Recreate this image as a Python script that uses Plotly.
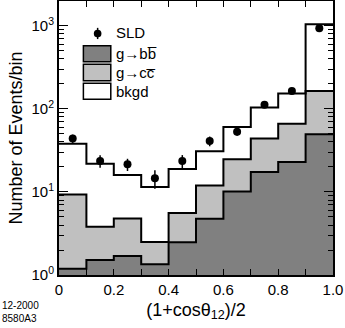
import plotly.graph_objects as go

# Bin edges of (1+cos theta_12)/2
edges = [0.0, 0.1, 0.2, 0.3, 0.4, 0.5, 0.6, 0.7, 0.8, 0.9, 1.0]
centers = [0.05, 0.15, 0.25, 0.35, 0.45, 0.55, 0.65, 0.75, 0.85, 0.95]

# Stacked MC (cumulative tops)
bb_top = [1.19, 1.52, 1.69, 1.35, 2.48, 4.77, 10.1, 17.4, 23.0, 49.5]      # g->bb
cc_top = [9.3, 3.8, 4.8, 2.5, 5.6, 12.0, 24.8, 44.0, 66.5, 165.0]          # + g->cc
bkgd_top = [38.0, 21.9, 16.0, 11.5, 18.9, 31.0, 60.7, 104.0, 153.0, 1050.0]  # + bkgd

# SLD data
sld = [44.0, 23.6, 21.5, 14.6, 23.6, 41.0, 53.0, 112.0, 165.0, 938.0]
sld_err = [5.0, 4.0, 3.6, 3.7, 4.2, 5.5, 5.5, 8.0, 9.0, 25.0]

DARK = "#808080"
LIGHT = "#c0c0c0"


def steps(vals):
    return vals + [vals[-1]]


fig = go.Figure()

# invisible floor for the bottom fill
fig.add_trace(go.Scatter(x=edges, y=[0.5] * len(edges), mode="lines",
                         line=dict(width=0, shape="hv"), showlegend=False, hoverinfo="skip"))

for vals, col in [(bb_top, DARK), (cc_top, LIGHT), (bkgd_top, "white")]:
    fig.add_trace(go.Scatter(
        x=edges, y=steps(vals), mode="lines",
        line=dict(color="black", width=2, shape="hv"),
        fill="tonexty", fillcolor=col, showlegend=False,
    ))

fig.add_trace(go.Scatter(
    x=centers, y=sld, mode="markers",
    marker=dict(color="black", size=8),
    error_y=dict(type="data", array=sld_err, color="black", thickness=1.5, width=0),
    showlegend=False,
))

# legend drawn by hand
shapes = []
boxes = [(0.778, 0.837, DARK), (0.709, 0.769, LIGHT), (0.641, 0.700, "white")]
for y0, y1, col in boxes:
    shapes.append(dict(type="rect", xref="paper", yref="paper", x0=0.089, x1=0.189,
                       y0=y0, y1=y1, fillcolor=col, line=dict(color="black", width=1.5)))
shapes.append(dict(type="line", xref="paper", yref="paper", x0=0.141, x1=0.141,
                   y0=0.861, y1=0.902, line=dict(color="black", width=1.5)))
shapes.append(dict(type="circle", xref="paper", yref="paper", x0=0.127, x1=0.155,
                   y0=0.867, y1=0.895, fillcolor="black", line=dict(color="black", width=0)))

labels = [("SLD", 0.886), ("g\u2192bb\u0305", 0.808), ("g\u2192cc\u0305", 0.739), ("bkgd", 0.670)]
annotations = [dict(text=t, x=0.2, y=y, xref="paper", yref="paper", xanchor="left",
                    yanchor="middle", showarrow=False, font=dict(size=15, color="black"))
               for t, y in labels]
annotations.append(dict(text="12-2000<br>8580A3", x=-0.215, y=-0.085, xref="paper", yref="paper",
                        xanchor="left", yanchor="top", showarrow=False, align="left",
                        font=dict(size=10, color="black")))

fig.update_layout(
    width=345, height=328,
    margin=dict(l=59, r=12, t=1, b=53),
    plot_bgcolor="white", paper_bgcolor="white",
    font=dict(family="Liberation Sans, Arial, sans-serif", size=15, color="black"),
    shapes=shapes, annotations=annotations,
    showlegend=False,
)

fig.update_xaxes(
    range=[0, 1], tickvals=edges,
    ticktext=["0", "", "0.2", "", "0.4", "", "0.6", "", "0.8", "", "1.0"],
    ticks="inside", ticklen=6, tickwidth=1, tickcolor="black",
    showline=True, linecolor="black", linewidth=2, mirror="ticks",
    showgrid=False, zeroline=False, automargin=False,
    title=dict(text="(1+cos\u03b8<sub>12</sub>)/2", standoff=6),
)
fig.update_yaxes(
    type="log", range=[0, 3.3],
    tickvals=[1, 10, 100, 1000],
    ticktext=["10<sup>0</sup>", "10<sup>1</sup>", "10<sup>2</sup>", "10<sup>3</sup>"],
    ticks="inside", ticklen=9, tickwidth=1, tickcolor="black",
    minor=dict(ticks="inside", ticklen=5, tickcolor="black", dtick="D1", showgrid=False),
    showline=True, linecolor="black", linewidth=2, mirror="ticks",
    showgrid=False, zeroline=False, automargin=False,
    title=dict(text="Number of Events/bin", standoff=4),
)

# page body has a default 8px margin; drop it so the figure sits at the window corner
fig.write_html("out.html", config={"displayModeBar": False},
               post_script="document.body.style.margin='0';")
